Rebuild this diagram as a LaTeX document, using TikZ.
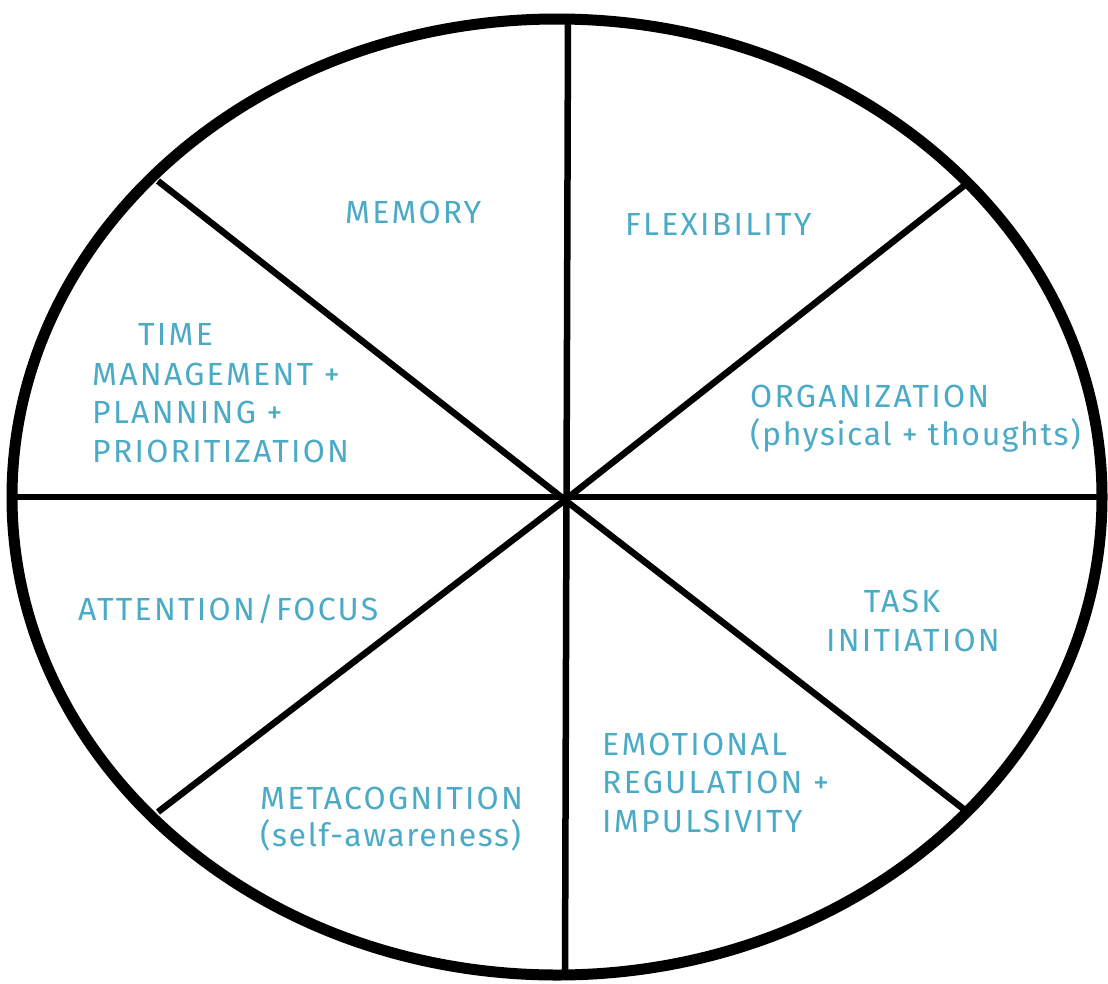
\documentclass[tikz,border=0pt]{standalone}
\usepackage{fontspec}
\setmainfont[LetterSpace=7]{Fira Sans}
\definecolor{lab}{HTML}{4BABC7}
\begin{document}
\begin{tikzpicture}[x=1pt,y=-1pt,
  rim/.style={line width=11pt},
  spoke/.style={line width=6.5pt},
  lbl/.style={text=lab,font=\fontsize{32}{39}\selectfont,anchor=base west,inner sep=0pt},
  lowlbl/.style={lbl,font=\fontsize{32}{39}\selectfont\addfontfeature{LetterSpace=5}}]
\useasboundingbox (0,0) rectangle (1108,983);
\coordinate (c) at (565,500);
\coordinate (t) at (568,18);
\coordinate (b) at (565,976);
\coordinate (l) at (12,497);
\coordinate (r) at (1103,497);
\coordinate (ul) at (158,181);
\coordinate (ur) at (970,181);
\coordinate (ll) at (158,812);
\coordinate (lr) at (970,814);
\draw[spoke] (t) -- (b);
\draw[spoke] (l) -- (r);
\draw[spoke] (ul) -- (c) -- (lr);
\draw[spoke] (ur) -- (c) -- (ll);
\draw[rim] (557,497) ellipse[x radius=545, y radius=478];
\node[lbl] (m) at (345,223) {MEMORY};
\node[lbl] (f) at (625,235) {FLEXIBILITY};
\node[lbl] (t1) at (138,345) {TIME};
\node[lbl] (t2) at (92,385) {MANAGEMENT +};
\node[lbl] (t3) at (92,423) {PLANNING +};
\node[lbl] (t4) at (92,462) {PRIORITIZATION};
\node[lbl] (o1) at (750,407) {ORGANIZATION};
\node[lowlbl] (o2) at (750,445) {(physical + thoughts)};
\node[lbl] (a) at (78,620) {ATTENTION/FOCUS};
\node[lbl,anchor=base] (k1) at (902,612) {TASK};
\node[lbl,anchor=base] (k2) at (913,651) {INITIATION};
\node[lbl] (mc1) at (260,809) {METACOGNITION};
\node[lowlbl] (mc2) at (260,846) {(self-awareness)};
\node[lbl] (e1) at (602,755) {EMOTIONAL};
\node[lbl] (e2) at (602,793) {REGULATION +};
\node[lbl] (e3) at (602,832) {IMPULSIVITY};
\end{tikzpicture}
\end{document}
